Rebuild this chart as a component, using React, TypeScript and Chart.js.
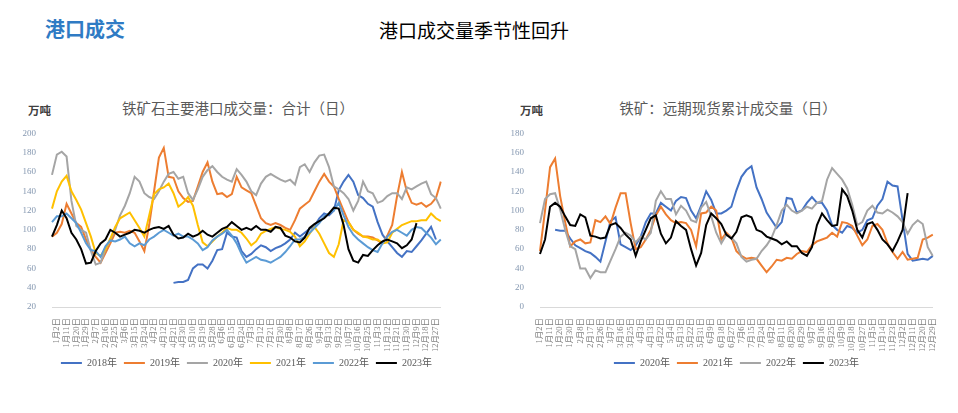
import { useEffect, useRef } from 'react';
import { Chart, registerables } from 'chart.js';

Chart.register(...registerables);

const FONT = "'Liberation Serif', 'Noto Sans CJK SC', serif";
const CJK = "'Noto Sans CJK SC', sans-serif";

// ---------- Left chart: 铁矿石主要港口成交量：合计（日） ----------
const LEFT_TICKS = ['1月2日', '1月11日', '1月20日', '1月29日', '2月7日', '2月16日', '2月25日', '3月6日', '3月15日', '3月24日', '4月2日', '4月12日', '4月21日', '4月30日', '5月10日', '5月19日', '5月28日', '6月6日', '6月15日', '6月24日', '7月3日', '7月12日', '7月21日', '7月30日', '8月8日', '8月17日', '8月26日', '9月4日', '9月13日', '9月22日', '10月7日', '10月16日', '10月25日', '11月3日', '11月12日', '11月21日', '11月30日', '12月9日', '12月18日', '12月27日'];

const L2018 = [null, null, null, null, null, null, null, null, null, null, null, null, null, null, null, null, null, null, null, null, null, null, null, null, null,
  45, 46, 46, 48, 60, 64, 64, 60, 68, 79, 80, 97, 93, 92, 78, 72, 75, 80, 84, 82, 78, 81, 83, 86, 90, 97, 93, 97, 101, 104, 112, 117, 115, 120, 141, 150, 157, 150, 136, 133, 127, 124, 108, 95, 88, 82, 76, 72, 78, 77, 83, 89, 96, 103, 90, null];
const L2019 = [93, 97, 106, 127, 117, 107, 103, 90, 79, 72, 66, 76, 86, 97, 98, 97, 99, 97, 88, 78, 105, 140, 175, 185, 155, 154, 140, 133, 129, 130, 145, 160, 170, 150, 137, 138, 134, 137, 155, 144, 141, 138, 125, 112, 107, 105, 107, 105, 102, 100, 110, 122, 126, 130, 140, 150, 158, 150, 145, 132, 120, 108, 100, 96, 93, 93, 92, 89, 86, 94, 105, 135, 160, 140, 128, 126, 128, 124, 127, 133, 150];
const L2020 = [157, 178, 181, 176, 130, 104, 100, 97, 78, 64, 66, 80, 90, 100, 115, 125, 138, 155, 150, 138, 134, 132, 140, 150, 158, 160, 153, 155, 138, 131, 142, 155, 162, 166, 160, 155, 152, 150, 163, 157, 150, 140, 136, 148, 155, 158, 155, 152, 150, 152, 147, 165, 168, 160, 170, 177, 178, 165, 145, 142, 138, 132, 120, 130, 150, 140, 138, 128, 130, 135, 138, 138, 132, 144, 142, 145, 148, 150, 137, 133, 122];
const L2021 = [122, 140, 150, 156, 140, 131, 121, 107, 93, 76, 73, 80, 91, 103, 112, 115, 118, 110, 102, 93, 115, 137, 142, 144, 148, 138, 124, 128, 134, 125, 105, 87, 83, 88, 93, 97, 102, 100, 100, 97, 91, 84, 88, 96, 99, 101, 103, 101, 100, 98, 93, 83, 88, 96, 103, 96, 86, 76, 72, 85, 110, 108, 100, 97, 93, 92, 90, 90, 86, 87, 97, 101, 105, 107, 109, 109, 110, 110, 117, 112, 109];
const L2022 = [108, 114, 114, 117, 112, 107, 97, 86, 79, 78, 72, 83, 89, 88, 90, 93, 86, 83, 86, 84, 90, 93, 97, 100, 97, 94, 96, 93, 93, 90, 86, 79, 82, 89, 93, 96, 100, 94, 86, 75, 66, 69, 72, 69, 68, 66, 69, 72, 77, 83, 90, 90, 93, 97, 102, 107, 114, 117, 120, 128, 115, 103, 95, 90, 86, 82, 79, 77, 86, 93, 98, 100, 97, 94, 100, 103, 102, 97, 92, 85, 90];
const L2023 = [93, 105, 120, 112, 97, 90, 80, 65, 66, 78, 86, 90, 100, 97, 93, 95, 97, 100, 99, 97, 100, 102, 103, 101, 104, 95, 91, 92, 96, 93, 95, 99, 95, 93, 97, 101, 103, 108, 104, 100, 102, 100, 104, 100, 100, 98, 103, 102, 94, 92, 88, 87, 92, 102, 106, 109, 112, 117, 123, 122, 105, 80, 68, 66, 74, 73, 79, 84, 88, 90, 88, 86, 81, 84, 90, 107, null, null, null, null, null];

// ---------- Right chart: 铁矿：远期现货累计成交量（日） ----------
const RIGHT_TICKS = ['1月2日', '1月11日', '1月20日', '1月30日', '2月8日', '2月17日', '2月26日', '3月7日', '3月16日', '3月25日', '4月3日', '4月13日', '4月22日', '5月4日', '5月13日', '5月22日', '5月31日', '6月9日', '6月18日', '6月27日', '7月6日', '7月15日', '7月24日', '8月2日', '8月11日', '8月20日', '8月29日', '9月7日', '9月16日', '9月25日', '10月9日', '10月18日', '10月27日', '11月5日', '11月14日', '11月23日', '12月2日', '12月11日', '12月20日', '12月29日'];

const R2020 = [null, null, null, 80, 79, 79, 71, 64, 61, 58, 56, 52, 47, 68, 89, 93,
  65, 62, 59, 64, 73, 88, 97, 97, 108, 104, 100, 110, 114, 113, 100, 92, 105, 120, 111, 97, 97, 100, 104, 121, 135, 142, 146, 124, 112, 98, 90, 82, 88, 113, 112, 98, 100, 108, 114,
  108, 108, 100, 85, 80, 77, 84, 82, 77, 80, 90, 92, 105, 112, 130, 126, 125, 90, 55, 48, 49, 50, 49, 53];
const R2021 = [58, 100, 145, 154, 115, 88, 63, 68, 70, 66, 67, 90, 88, 94, 86, 103,
  118, 118, 87, 60, 62, 70, 80, 95, 104, 96, 90, 87, 88, 87, 80, 63, 97, 98, 104, 100, 70, 77, 72, 58, 53, 50, 51, 50, 43, 36, 42, 49, 48, 51, 50, 55, 58, 57, 64,
  68, 70, 72, 77, 73, 88, 87, 84, 74, 64, 70, 84, 86, 80, 66, 57, 50, 57, 49, 50, 51, 70, 72, 75];
const R2022 = [87, 112, 117, 118, 101, 80, 63, 60, 40, 40, 30, 38, 36, 36, 48, 60,
  73, 77, 74, 67, 73, 70, 77, 110, 120, 112, 112, 96, 105, 100, 90, 88, 103, 109, 94, 77, 66, 75, 72, 66, 52, 47, 49, 50, 58, 64, 72, 85, 100, 106, 100, 97, 100, 104, 102,
  108, 110, 132, 144, 138, 132, 123, 106, 85, 88, 100, 105, 98, 97, 101, 98, 94, 88, 76, 85, 90, 86, 62, 53];
const R2023 = [55, 70, 104, 108, 104, 94, 85, 84, 96, 93, 74, 73, 71, 72, 85, 87,
  82, 75, 70, 53, 68, 80, 92, 95, 76, 66, 72, 89, 84, 80, 60, 43, 56, 85, 97, 92, 86, 75, 71, 78, 93, 95, 93, 80, 78, 73, 71, 69, 65, 68, 63, 63, 56, 53, 62,
  85, 97, 90, 84, 85, 122, 115, 100, 80, 72, 86, 88, 80, 70, 65, 58, 68, 80, 118, null, null, null, null, null];

const BLUE = '#4472C4';
const ORANGE = '#ED7D31';
const GREY = '#A5A5A5';
const YELLOW = '#FFC000';
const LBLUE = '#5B9BD5';
const BLACK = '#000000';

function buildCats(ticks: string[], total: number, offset: number): string[] {
  const cats: string[] = [];
  for (let i = 0; i < total; i++) {
    const k = (i - offset) / 2;
    cats.push(Number.isInteger(k) && k >= 0 && k < ticks.length ? ticks[k] : '');
  }
  return cats;
}

type Series = { name: string; data: (number | null)[]; color: string };

function SeasonChart(props: {
  left: number; top: number; width: number; height: number;
  labels: string[]; series: Series[]; yMin: number; yMax: number; yWidth: number; padRight: number;
}) {
  const ref = useRef<HTMLCanvasElement | null>(null);
  useEffect(() => {
    if (!ref.current) return;
    const n = props.series.length;
    const chart = new Chart(ref.current, {
      type: 'line',
      data: {
        labels: props.labels,
        datasets: props.series.map((s, i) => ({
          label: s.name,
          data: s.data,
          borderColor: s.color,
          backgroundColor: s.color,
          borderWidth: 2,
          pointRadius: 0,
          tension: 0,
          spanGaps: false,
          order: n - i,
        })),
      },
      options: {
        animation: false,
        responsive: false,
        layout: { padding: { top: 4, right: props.padRight, left: 0, bottom: 2 } },
        plugins: {
          legend: {
            position: 'bottom',
            fullSize: false,
            labels: {
              usePointStyle: true,
              pointStyle: 'line',
              pointStyleWidth: 21,
              boxHeight: 10,
              color: '#595959',
              font: { size: 10, family: FONT },
              padding: 7,
              sort: (a: any, b: any) => a.datasetIndex - b.datasetIndex,
            },
          },
          tooltip: { enabled: false },
        },
        scales: {
          x: {
            grid: { display: false },
            border: { display: true, color: '#d9d9d9', width: 1 },
            ticks: {
              autoSkip: false,
              maxRotation: 90,
              minRotation: 90,
              color: '#7f7f7f',
              font: { size: 8.5, family: FONT },
              padding: 3,
            },
            afterFit: (s: any) => { s.height = 44; },
          },
          y: {
            min: props.yMin,
            max: props.yMax,
            grid: { display: false },
            border: { display: false },
            ticks: { stepSize: 20, color: '#8497b0', font: { size: 9, family: FONT }, padding: 8 },
            afterFit: (s: any) => { s.width = props.yWidth; },
          },
        },
      } as any,
    });
    return () => chart.destroy();
  }, []);
  return (
    <canvas
      ref={ref}
      width={props.width}
      height={props.height}
      style={{ position: 'absolute', left: props.left, top: props.top, width: props.width, height: props.height }}
    />
  );
}

const textBase: any = { position: 'absolute', whiteSpace: 'nowrap', lineHeight: 1, fontFamily: CJK };

export default function App() {
  const leftLabels = buildCats(LEFT_TICKS, L2019.length, 1);
  const rightLabels = buildCats(RIGHT_TICKS, R2021.length, 0);
  const leftSeries: Series[] = [
    { name: '2018年', data: L2018, color: BLUE },
    { name: '2019年', data: L2019, color: ORANGE },
    { name: '2020年', data: L2020, color: GREY },
    { name: '2021年', data: L2021, color: YELLOW },
    { name: '2022年', data: L2022, color: LBLUE },
    { name: '2023年', data: L2023, color: BLACK },
  ];
  const rightSeries: Series[] = [
    { name: '2020年', data: R2020, color: BLUE },
    { name: '2021年', data: R2021, color: ORANGE },
    { name: '2022年', data: R2022, color: GREY },
    { name: '2023年', data: R2023, color: BLACK },
  ];
  return (
    <div style={{ position: 'absolute', left: 0, top: 0, width: 958, height: 413, background: '#fff', overflow: 'hidden' }}>
      <div style={{ ...textBase, left: 45, top: 19, fontSize: 20, fontWeight: 'bold', color: '#2F7BC4' }}>港口成交</div>
      <div style={{ ...textBase, left: 474, top: 20, fontSize: 19, color: '#000', transform: 'translateX(-50%)' }}>港口成交量季节性回升</div>

      <div style={{ ...textBase, left: 238, top: 101, fontSize: 14.5, color: '#595959', transform: 'translateX(-50%)' }}>铁矿石主要港口成交量：合计（日）</div>
      <div style={{ ...textBase, left: 728, top: 101, fontSize: 14.5, color: '#595959', transform: 'translateX(-50%)' }}>铁矿：远期现货累计成交量（日）</div>

      <div style={{ ...textBase, left: 28, top: 105, fontSize: 11.5, color: '#404040', fontWeight: 'bold' }}>万吨</div>
      <div style={{ ...textBase, left: 520, top: 105, fontSize: 11.5, color: '#404040', fontWeight: 'bold' }}>万吨</div>

      <SeasonChart left={14} top={120} width={440} height={260} labels={leftLabels} series={leftSeries} yMin={20} yMax={200} yWidth={38} padRight={5} />
      <SeasonChart left={494} top={120} width={452} height={260} labels={rightLabels} series={rightSeries} yMin={0} yMax={180} yWidth={46} padRight={7} />
    </div>
  );
}
